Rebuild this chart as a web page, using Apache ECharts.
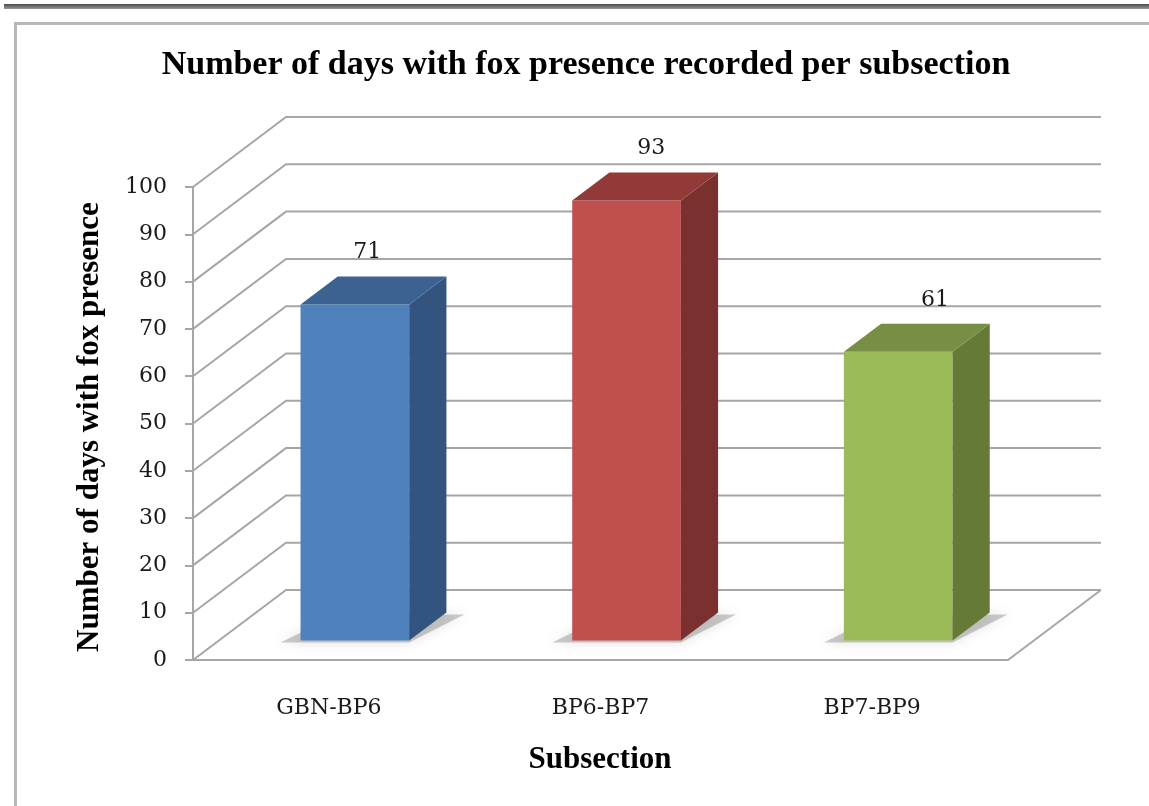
<!DOCTYPE html>
<html>
<head>
<meta charset="utf-8">
<script src="https://cdn.jsdelivr.net/npm/echarts@6/dist/echarts.min.js"></script>
<style>
  html, body { margin: 0; padding: 0; background: #fff; }
  #chart { width: 1149px; height: 806px; }
</style>
</head>
<body>
<div id="chart"></div>
<script>
const categories = ['GBN-BP6', 'BP6-BP7', 'BP7-BP9'];
const foxDays = [71, 93, 61];
const yTicks = [0, 10, 20, 30, 40, 50, 60, 70, 80, 90, 100];

// front / side / top colours per bar
const barColors = [
  ['#4f81bd', '#33547e', '#3c6291'],
  ['#c0504d', '#7a302f', '#933a38'],
  ['#9bbb59', '#667a38', '#778f44']
];

// depth of the 3d box, in pixels
const DEPTH_X = 93;
const DEPTH_Y = 70;
const BAR_FRONT = 0.28;
const BAR_BACK = 0.68;
const GRID_COLOR = '#a6a6a6';
const serif = "'DejaVu Serif', serif";
const bold = "'Liberation Serif', 'Times New Roman', serif";

const chart = echarts.init(document.getElementById('chart'), null, { renderer: 'canvas' });

function renderWalls(params, api) {
  const cs = params.coordSys;
  const y = api.coord([0, api.value(1)])[1];
  const children = [{
    type: 'polyline',
    shape: { points: [[cs.x, y], [cs.x + DEPTH_X, y - DEPTH_Y], [cs.x + cs.width + DEPTH_X, y - DEPTH_Y]] },
    style: { stroke: GRID_COLOR, lineWidth: 2, fill: null }
  }];
  if (api.value(1) === 0) {
    children.push({
      type: 'line',
      shape: { x1: cs.x + cs.width, y1: y, x2: cs.x + cs.width + DEPTH_X, y2: y - DEPTH_Y },
      style: { stroke: GRID_COLOR, lineWidth: 2 }
    });
  }
  return { type: 'group', children };
}

function renderBar(params, api) {
  const i = api.value(0);
  const v = api.value(1);
  const cs = params.coordSys;
  const base = api.coord([i, 0]);
  const top = api.coord([i, v]);
  const bw = api.size([1, 0])[0] * 0.4;
  const fx = DEPTH_X * BAR_FRONT, fy = DEPTH_Y * BAR_FRONT;
  const dx = DEPTH_X * (BAR_BACK - BAR_FRONT), dy = DEPTH_Y * (BAR_BACK - BAR_FRONT);
  const xL = base[0] - bw / 2 + fx;
  const xR = xL + bw;
  const yB = base[1] - fy;
  const yT = top[1] - fy;
  const c = barColors[i];
  const midX = cs.x + cs.width / 2;
  const labelX = xL + bw / 2 + dx / 2 + 6 + (base[0] - midX) * 0.045;
  return {
    type: 'group',
    children: [
      {
        type: 'polygon',
        shape: { points: [[xL - 20, yB + 2], [xR, yB + 2], [xR + dx + 18, yB - dy + 2], [xL + dx, yB - dy + 2]] },
        style: { fill: 'rgba(110,110,110,0.35)', shadowBlur: 12, shadowColor: 'rgba(90,90,90,0.5)' }
      },
      { type: 'rect', shape: { x: xL, y: yT, width: bw, height: yB - yT }, style: { fill: c[0] } },
      {
        type: 'polygon',
        shape: { points: [[xR, yT], [xR + dx, yT - dy], [xR + dx, yB - dy], [xR, yB]] },
        style: { fill: c[1] }
      },
      {
        type: 'polygon',
        shape: { points: [[xL, yT], [xR, yT], [xR + dx, yT - dy], [xL + dx, yT - dy]] },
        style: { fill: c[2] }
      },
      {
        type: 'text',
        style: {
          text: String(v), x: labelX, y: yT - 52,
          align: 'center', verticalAlign: 'middle',
          fontFamily: serif, fontSize: 22, fill: '#1a1a1a'
        }
      }
    ]
  };
}

chart.setOption({
  animation: false,
  grid: { left: 193, right: 141, top: 187, bottom: 146 },
  xAxis: {
    type: 'category',
    data: categories,
    axisLine: { lineStyle: { color: GRID_COLOR, width: 2 } },
    axisTick: { length: 8, lineStyle: { color: GRID_COLOR, width: 2 } },
    axisLabel: { margin: 37, fontFamily: serif, fontSize: 22, color: '#1a1a1a' }
  },
  yAxis: {
    type: 'value',
    min: 0,
    max: 100,
    interval: 10,
    splitLine: { show: false },
    axisLine: { show: true, lineStyle: { color: GRID_COLOR, width: 2 } },
    axisTick: { show: true, length: 8, lineStyle: { color: GRID_COLOR, width: 2 } },
    axisLabel: { margin: 26, fontFamily: serif, fontSize: 22, color: '#1a1a1a' }
  },
  graphic: [
    {
      type: 'rect', left: 4, top: 4, z: 10,
      shape: { width: 1160, height: 5 },
      style: { fill: new echarts.graphic.LinearGradient(0, 0, 0, 1, [
        { offset: 0, color: '#4a4a4a' }, { offset: 1, color: '#9a9a9a' }
      ]) }
    },
    {
      type: 'rect', left: 13, top: 21, z: 10,
      shape: { width: 1160, height: 820 },
      style: { fill: null, stroke: '#b8b8b8', lineWidth: 3 }
    },
    {
      type: 'text', x: 586, y: 65, z: 10,
      style: {
        text: 'Number of days with fox presence recorded per subsection',
        align: 'center', verticalAlign: 'middle',
        fontFamily: bold, fontWeight: 'bold', fontSize: 34, fill: '#000'
      }
    },
    {
      type: 'text', x: 90, y: 427, rotation: Math.PI / 2, z: 10,
      style: {
        text: 'Number of days with fox presence',
        align: 'center', verticalAlign: 'middle',
        fontFamily: bold, fontWeight: 'bold', fontSize: 31, fill: '#000'
      }
    },
    {
      type: 'text', x: 600, y: 760, z: 10,
      style: {
        text: 'Subsection',
        align: 'center', verticalAlign: 'middle',
        fontFamily: bold, fontWeight: 'bold', fontSize: 31, fill: '#000'
      }
    }
  ],
  series: [
    {
      type: 'custom',
      z: 1,
      silent: true,
      renderItem: renderWalls,
      encode: { x: 0, y: 1 },
      data: yTicks.map(v => [0, v])
    },
    {
      type: 'custom',
      z: 3,
      renderItem: renderBar,
      encode: { x: 0, y: 1 },
      data: foxDays.map((v, i) => [i, v])
    }
  ]
});
</script>
</body>
</html>
